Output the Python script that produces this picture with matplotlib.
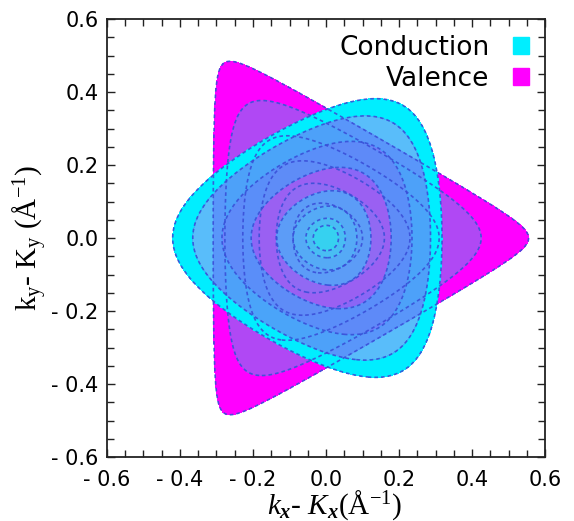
import numpy as np
import matplotlib
matplotlib.use("Agg")
import matplotlib.pyplot as plt
from matplotlib.patches import Patch
from matplotlib.ticker import MultipleLocator, FuncFormatter

plt.rcParams['mathtext.fontset'] = 'custom'
plt.rcParams['mathtext.rm'] = 'Liberation Serif'
plt.rcParams['mathtext.it'] = 'Liberation Serif:italic'
plt.rcParams['mathtext.bf'] = 'Liberation Serif:italic:bold'
plt.rcParams['lines.dashed_pattern'] = [2.2, 1.8]

# trigonal warping strength of each band
valence_warp = 1.06      # vertices point along +x
conduction_warp = 0.71   # vertices point along -x

# distance from K to the vertex of each contour, outer -> inner (1/A)
valence_vertex_r = [0.555, 0.425, 0.31, 0.23, 0.16, 0.10]
conduction_vertex_r = [0.42, 0.365, 0.285, 0.205, 0.135, 0.09, 0.055, 0.035]

# fill of each band between successive contours, outer -> inner
valence_colors = ['#ff00ff', '#b048f4', '#9c58f6', '#b050f0', '#a45cf2', '#a060f0']
conduction_colors = ['#00eeff', '#3cb2fa', '#4a9cfa', '#5a90f8', '#50a8f8',
                     '#48b8f8', '#40c8f4', '#30d8f0']
conduction_alpha = [1.0, 0.85, 0.8, 0.25, 0.85, 0.85, 0.9, 0.95]

line_color = '#3a4fd8'

x = np.linspace(-0.6, 0.6, 801)
X, Y = np.meshgrid(x, x)
R = np.hypot(X, Y)
TH = np.arctan2(Y, X)

Fv = R**2 - valence_warp * R**3 * np.cos(3 * TH)
rcrit = 2 / (3 * valence_warp)
Fv = np.where(R > rcrit, 1.0, Fv)
Fc = R**2 + conduction_warp * R**3 * np.cos(3 * TH)

lv = [r**2 - valence_warp * r**3 for r in valence_vertex_r]
lc = [r**2 - conduction_warp * r**3 for r in conduction_vertex_r]

fig = plt.figure(figsize=(5.74, 5.21), dpi=100)
ax = fig.add_axes([0.1864, 0.1228, 0.7631, 0.8407])

for i in range(len(lv)):
    lo = lv[i + 1] if i + 1 < len(lv) else -1.0
    ax.contourf(X, Y, Fv, levels=[lo, lv[i]], colors=[valence_colors[i]])
for i in range(len(lc)):
    lo = lc[i + 1] if i + 1 < len(lc) else -1.0
    ax.contourf(X, Y, Fc, levels=[lo, lc[i]], colors=[conduction_colors[i]],
                alpha=conduction_alpha[i])

ax.contour(X, Y, Fv, levels=sorted(lv), colors=line_color, linestyles='dashed',
           linewidths=1.2, alpha=0.9)
ax.contour(X, Y, Fc, levels=sorted(lc), colors=line_color, linestyles='dashed',
           linewidths=1.2, alpha=0.9)

ax.set_xlim(-0.6, 0.6)
ax.set_ylim(-0.6, 0.6)

fmt = FuncFormatter(lambda v, p: "- %.1f" % abs(v) if v < -1e-9 else "%.1f" % abs(v))
for axis in (ax.xaxis, ax.yaxis):
    axis.set_major_locator(MultipleLocator(0.2))
    axis.set_minor_locator(MultipleLocator(0.05))
    axis.set_major_formatter(fmt)
ax.tick_params(which='both', direction='in', top=True, right=True, labelsize=15,
               color='#222222')
ax.tick_params(which='major', length=6, width=1)
ax.tick_params(which='minor', length=5, width=1)
ax.tick_params(axis='x', pad=9)
ax.tick_params(axis='y', pad=6)
for s in ax.spines.values():
    s.set_linewidth(1.3)
    s.set_color('#222222')

ax.set_xlabel(r'$k_{\mathbf{x}}$- $K_{\mathbf{x}}(\mathrm{Å}^{-1})$',
              fontsize=21, family='Liberation Serif', labelpad=-1)
ax.xaxis.label.set_x(0.52)
ax.set_ylabel(r'$\mathrm{k_y}$- $\mathrm{K_y}$ $(\mathrm{Å}^{-1})$',
              fontsize=21, family='Liberation Serif', labelpad=2)

handles = [Patch(color=conduction_colors[0], label='Conduction'),
           Patch(color=valence_colors[0], label='Valence')]
ax.legend(handles=handles, loc='upper right', frameon=False, markerfirst=False,
          fontsize=19, handlelength=0.6, handleheight=0.6, handletextpad=0.9,
          labelspacing=0.2, borderaxespad=0.2)

fig.savefig('out.png', dpi=100)
